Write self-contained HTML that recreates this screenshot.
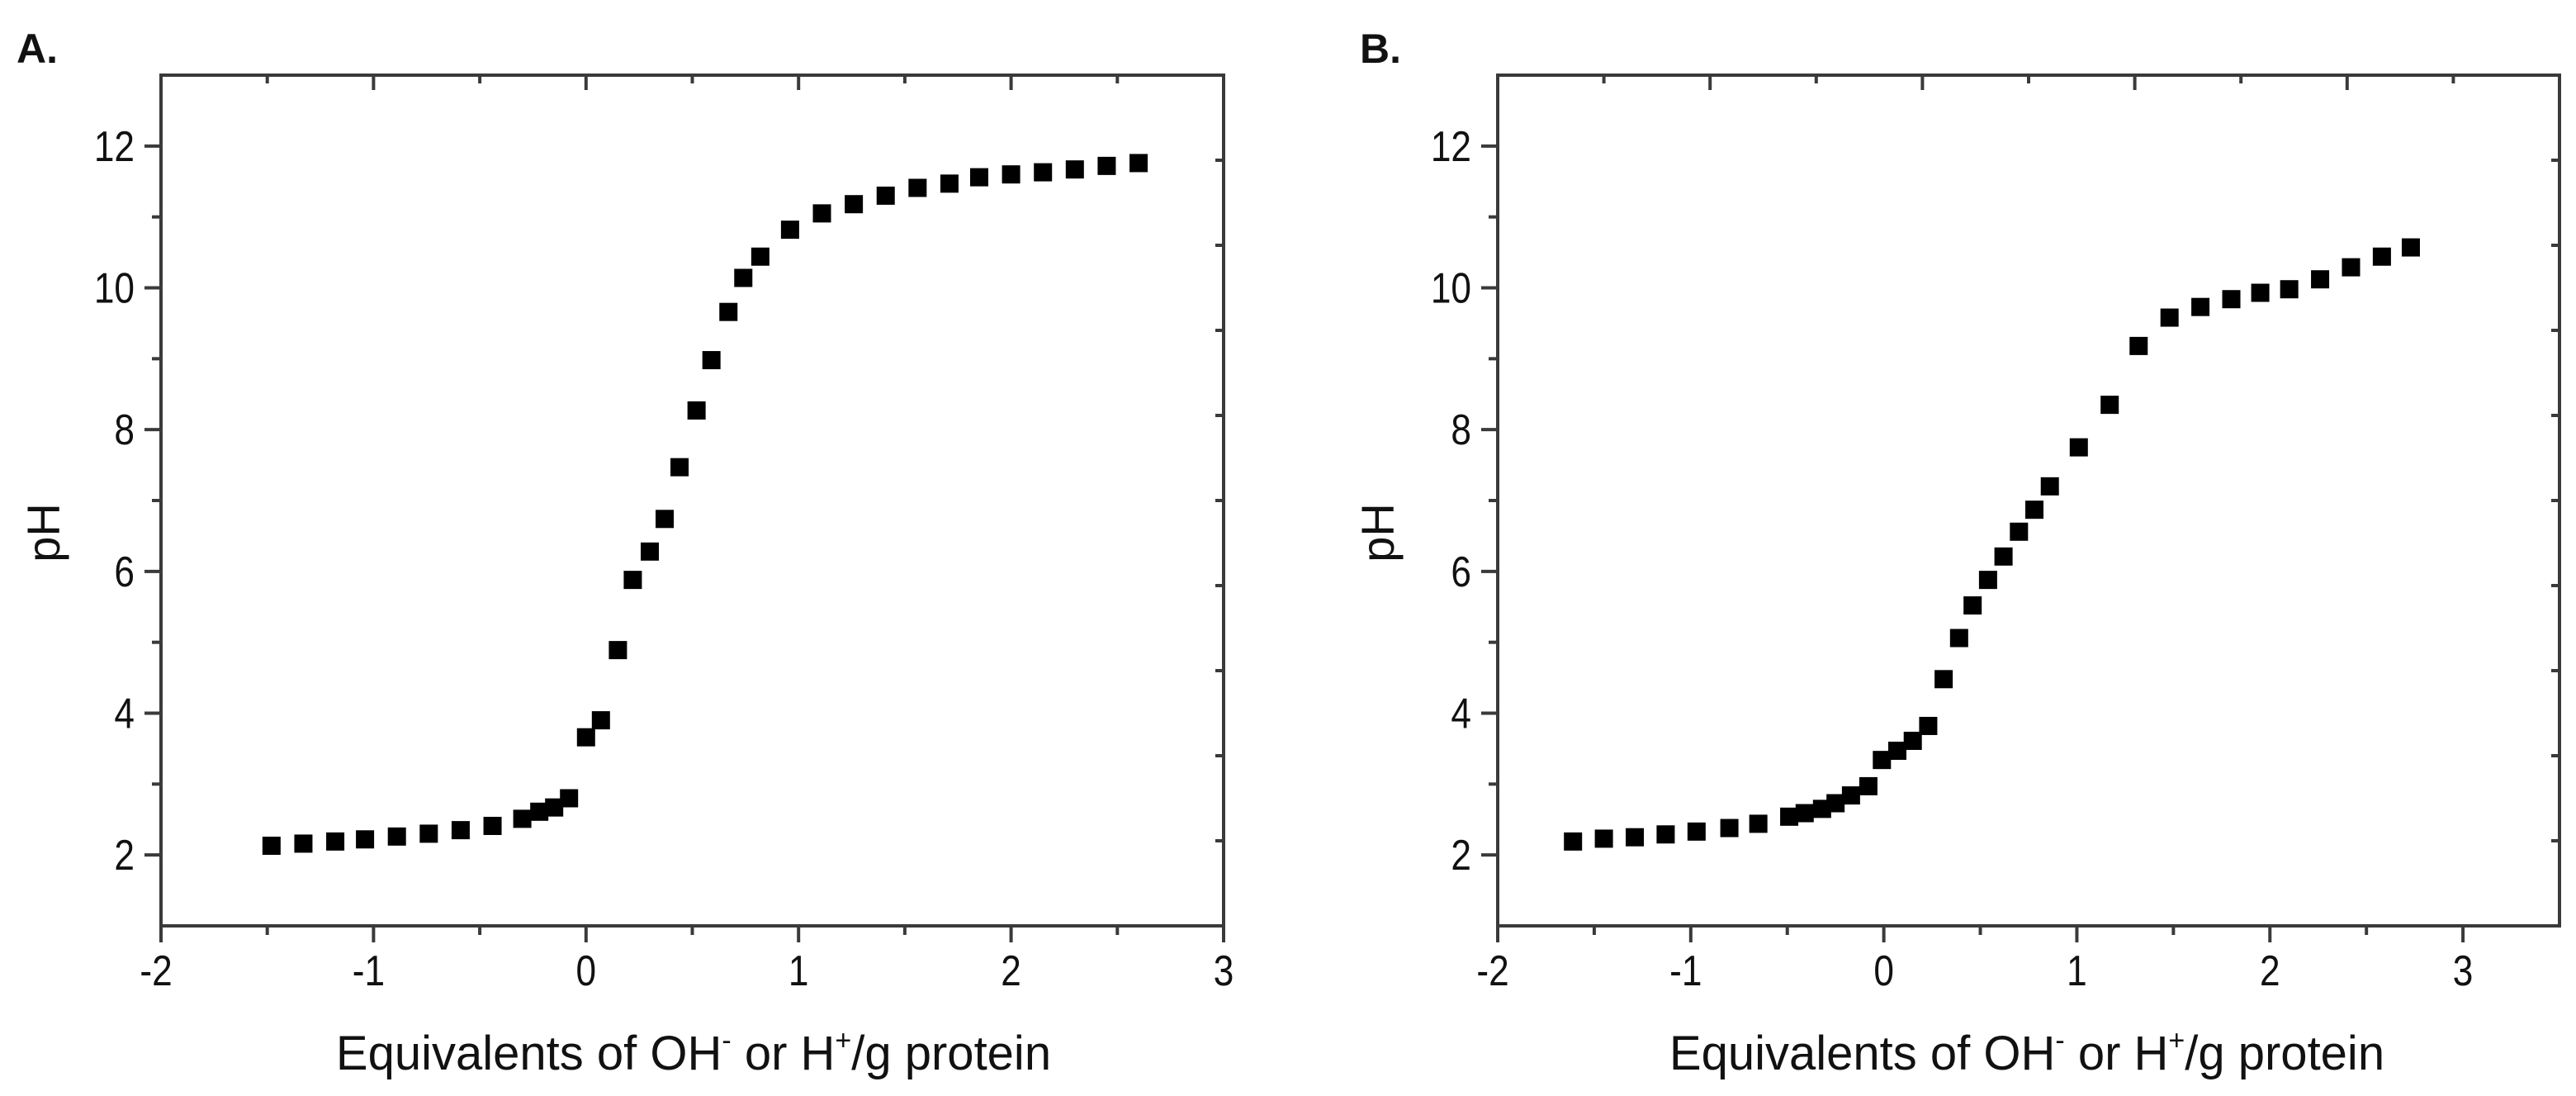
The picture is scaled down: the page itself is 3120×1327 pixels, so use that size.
<!DOCTYPE html>
<html><head><meta charset="utf-8"><style>
html,body{margin:0;padding:0;background:#fff;}
svg{display:block;font-family:"Liberation Sans",Arial,sans-serif;}
</style></head><body>
<svg id="fig" width="3120" height="1327" viewBox="0 0 3120 1327" xmlns="http://www.w3.org/2000/svg">
<rect width="3120" height="1327" fill="#fff"/>
</svg>
<script>
// Panel A data
const aX = [-1.48,-1.33,-1.18,-1.04,-0.89,-0.74,-0.59,-0.44,-0.30,-0.22,-0.15,-0.08,0.00,0.07,0.15,0.22,0.30,0.37,0.44,0.52,0.59,0.67,0.74,0.82,0.96,1.11,1.26,1.41,1.56,1.71,1.85,2.00,2.15,2.30,2.45,2.60];
const aY = [2.13,2.16,2.19,2.22,2.26,2.30,2.35,2.41,2.51,2.61,2.67,2.80,3.66,3.90,4.89,5.88,6.28,6.74,7.47,8.27,8.98,9.66,10.14,10.44,10.82,11.05,11.18,11.30,11.41,11.47,11.56,11.60,11.63,11.67,11.72,11.76];
// Panel B data
const bX = [-1.61,-1.45,-1.29,-1.13,-0.97,-0.80,-0.65,-0.49,-0.41,-0.32,-0.25,-0.17,-0.08,-0.01,0.07,0.15,0.23,0.31,0.39,0.46,0.54,0.62,0.70,0.78,0.86,1.01,1.17,1.32,1.48,1.64,1.80,1.95,2.10,2.26,2.42,2.58,2.73];
const bY = [2.19,2.23,2.25,2.29,2.33,2.38,2.44,2.54,2.59,2.65,2.73,2.84,2.97,3.34,3.47,3.61,3.82,4.48,5.06,5.52,5.88,6.21,6.56,6.87,7.20,7.75,8.35,9.18,9.58,9.73,9.84,9.93,9.98,10.12,10.29,10.44,10.57];
const xTicks = [-2,-1,0,1,2,3];
const xMinor = [-1.5,-0.5,0.5,1.5,2.5];
const yTicks = [2,4,6,8,10,12];
const yMinor = [3,5,7,9,11];
const rightTicks = [11.8,10.6,9.4,8.2,7.0,5.8,4.6,3.4,2.2];
const topDivs = 10;

const NS = "http://www.w3.org/2000/svg";
const svg = document.getElementById('fig');
function mk(tag, attrs, parent){
  const e = document.createElementNS(NS, tag);
  for (const k in attrs) e.setAttribute(k, attrs[k]);
  (parent||svg).appendChild(e);
  return e;
}
const AX = "#3a3a3a";

function panel(cfg){
  const g = mk('g', {});
  
  
  const L=cfg.left,R=cfg.right,T=91,B=1121;
  const sx = v => L + (v - cfg.xmin)/(cfg.xmax - cfg.xmin)*(R-L);
  const sy = v => B - (v - 1)/(13-1)*(B-T);
  const frame = mk('rect',{x:L,y:T,width:R-L,height:B-T,fill:'none',stroke:AX,'stroke-width':4},g);
  
  
  xTicks.forEach(v=>{
    mk('line',{x1:sx(v),x2:sx(v),y1:B,y2:B+20,stroke:AX,'stroke-width':4},g);
    const cx = sx(v)-(v<0?6:0);
    const t = mk('text',{x:0,y:0,'font-size':52,'text-anchor':'middle',fill:'#111',transform:`translate(${cx},1193) scale(0.85,1)`},g);
    t.textContent = v;
    
    
  });
  xMinor.forEach(v=>{ mk('line',{x1:sx(v),x2:sx(v),y1:B,y2:B+11,stroke:AX,'stroke-width':4},g); });
  for(let i=0;i<=topDivs;i++){
    const x = L + i*(R-L)/topDivs;
    mk('line',{x1:x,x2:x,y1:T,y2:T+(i%2===0?18:10),stroke:AX,'stroke-width':4},g);
  }
  yTicks.forEach(v=>{
    mk('line',{x1:L-20,x2:L,y1:sy(v),y2:sy(v),stroke:AX,'stroke-width':4},g);
    const t = mk('text',{x:0,y:0,'font-size':52,'text-anchor':'end',fill:'#111',transform:`translate(${L-32},${sy(v)+18}) scale(0.85,1)`},g);
    t.textContent = v;
    
    
  });
  yMinor.forEach(v=>{ mk('line',{x1:L-11,x2:L,y1:sy(v),y2:sy(v),stroke:AX,'stroke-width':4},g); });
  rightTicks.forEach(v=>{ mk('line',{x1:R-10,x2:R,y1:sy(v),y2:sy(v),stroke:AX,'stroke-width':4},g); });
  cfg.xs.forEach((v,i)=>{
    const r = mk('rect',{x:sx(v)-11,y:sy(cfg.ys[i])-11,width:22,height:22,fill:'#000'},g);
    
    
  });
  const lab = mk('text',{x:cfg.labelX,y:76,'font-size':50,'font-weight':'bold',fill:'#111'},g);
  lab.textContent = cfg.label;
  
  
  const yt = mk('text',{x:0,y:0,'font-size':56,'text-anchor':'middle',fill:'#111',transform:`translate(${cfg.yTitleX},645) rotate(-90)`},g);
  yt.textContent = 'pH';
  
  
  const xt = mk('text',{x:cfg.xTitleX,y:1295,'font-size':58,'text-anchor':'middle',fill:'#111'},g);
  
  
  const parts = [['Equivalents of OH',0,false],['-',-24,true],[' or H',24,false],['+',-24,true],['/g protein',24,false]];
  parts.forEach(p=>{
    const s = mk('tspan',{dy:p[1]},xt);
    if(p[2]) s.setAttribute('font-size',34);
    s.textContent = p[0];
  });
}

panel({name:'panel-a',left:195,right:1482,xmin:-2,xmax:3,xs:aX,ys:aY,label:'A.',labelX:20,yTitleX:72,xTitleX:840});
panel({name:'panel-b',left:1814,right:3100,xmin:-2,xmax:3.5,xs:bX,ys:bY,label:'B.',labelX:1647,yTitleX:1688,xTitleX:2455});
</script>
</body></html>
